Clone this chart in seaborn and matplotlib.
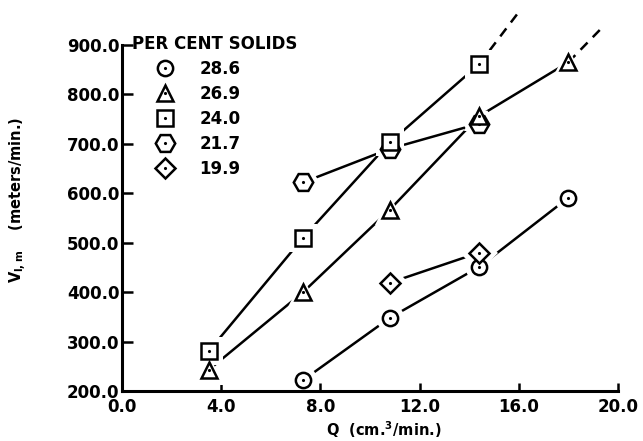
import matplotlib
matplotlib.use("Agg")
import matplotlib.pyplot as plt
from matplotlib.lines import Line2D
from matplotlib.legend_handler import HandlerTuple
import pandas as pd
import seaborn as sns

# Flow rate Q (cm^3/min) and velocity V_l,m (meters/min) for each solids content
q_286 = [7.3, 10.8, 14.4, 18.0]
v_286 = [222, 348, 451, 591]

q_269 = [3.5, 7.3, 10.8, 14.4, 18.0]
v_269 = [243, 400, 567, 756, 865]

q_240 = [3.5, 7.3, 10.8, 14.4]
v_240 = [281, 510, 703, 861]

q_217 = [7.3, 10.8, 14.4]
v_217 = [622, 690, 741]

q_199 = [10.8, 14.4]
v_199 = [419, 480]

# extrapolated trends (dashed)
ext_q_240 = [14.4, 16.05]
ext_v_240 = [861, 970]
ext_q_269 = [18.0, 19.3]
ext_v_269 = [865, 932]

solids_labels = ["28.6", "26.9", "24.0", "21.7", "19.9"]
x_ticks = [0.0, 4.0, 8.0, 12.0, 16.0, 20.0]
y_ticks = [200.0, 300.0, 400.0, 500.0, 600.0, 700.0, 800.0, 900.0]

sns.set_theme(style="white")
plt.rcParams["font.family"] = ["DejaVu Sans"]
plt.rcParams["font.weight"] = "bold"
plt.rcParams["mathtext.default"] = "bf"
plt.rcParams["text.color"] = "black"
plt.rcParams["axes.labelcolor"] = "black"

series = [
    ("28.6", q_286, v_286, "o", 11),
    ("26.9", q_269, v_269, "^", 12),
    ("24.0", q_240, v_240, "s", 11),
    ("21.7", q_217, v_217, "H", 14),
    ("19.9", q_199, v_199, "D", 10),
]

fig = plt.figure(figsize=(6.43, 4.41), dpi=100)
ax = fig.add_axes([0.19, 0.1134, 0.771, 0.7846])

LW = 1.8
# connecting lines
for name, q, v, m, ms in series:
    df = pd.DataFrame({"Q": q, "V": v})
    sns.lineplot(data=df, x="Q", y="V", ax=ax, color="black", lw=LW,
                 sort=False, zorder=1, estimator=None)

for eq, ev in [(ext_q_240, ext_v_240), (ext_q_269, ext_v_269)]:
    ax.plot(eq, ev, color="black", lw=LW, ls=(0, (4, 3)), clip_on=False,
            zorder=1)

# white halos leave a gap between each line and its symbol
for name, q, v, m, ms in series:
    ax.plot(q, v, ls="none", marker=m, ms=ms + 9, mfc="white", mec="white",
            mew=0, zorder=2, clip_on=False)

# hollow symbols with centre dots (hexagons underneath the rest)
order = [3, 0, 1, 2, 4]
for k, i in enumerate(order):
    name, q, v, m, ms = series[i]
    ax.plot(q, v, ls="none", marker=m, ms=ms, mfc="white", mec="black",
            mew=LW, zorder=3 + k, clip_on=False)
    ax.plot(q, v, ls="none", marker=".", ms=2.5, color="black",
            zorder=3 + k, clip_on=False)

ax.set_xlim(0, 20)
ax.set_ylim(200, 900)
ax.set_xticks(x_ticks)
ax.set_xticklabels([f"{t:.1f}" for t in x_ticks])
ax.set_yticks(y_ticks)
ax.set_yticklabels([f"{t:.1f}" for t in y_ticks])
ax.set_xlabel("")
ax.set_ylabel("")

for s in ["top", "right"]:
    ax.spines[s].set_visible(False)
for s in ["left", "bottom"]:
    ax.spines[s].set_linewidth(2.2)
    ax.spines[s].set_color("black")

ax.tick_params(axis="y", direction="in", length=8, width=1.8, pad=2,
               labelsize=12, colors="black", left=True)
ax.tick_params(axis="x", direction="in", length=6, width=1.8, pad=5,
               labelsize=12, colors="black", bottom=True)
for lbl in ax.get_xticklabels() + ax.get_yticklabels():
    lbl.set_fontweight("bold")

# legend
handles = []
for name, q, v, m, ms in series:
    sym = Line2D([], [], ls="none", marker=m, ms=ms, mfc="white",
                 mec="black", mew=LW)
    dot = Line2D([], [], ls="none", marker=".", ms=2.5, color="black")
    handles.append((sym, dot))
leg = ax.legend(handles, solids_labels, title="PER CENT SOLIDS",
                loc="upper left", bbox_to_anchor=(0.02, 1.03),
                frameon=False, borderpad=0, borderaxespad=0,
                handlelength=3.95, handletextpad=0.1, labelspacing=0.42,
                fontsize=12, title_fontsize=12, alignment="left",
                handler_map={tuple: HandlerTuple(ndivide=1, pad=0)})
leg.get_title().set_fontweight("bold")
leg.get_title().set_color("black")
for t in leg.get_texts():
    t.set_fontweight("bold")
    t.set_color("black")

fig.text(18 / 643, 1 - 200 / 441,
         r"V$_{\mathbf{l,m}}$    (meters/min.)", rotation=90,
         ha="center", va="center", fontsize=10.5, fontweight="bold",
         color="black")
fig.text(384 / 643, 1 - 430 / 441, r"Q  (cm.$^{3}$/min.)",
         ha="center", va="center", fontsize=10.5, fontweight="bold",
         color="black")

fig.savefig("out.png", dpi=100)
